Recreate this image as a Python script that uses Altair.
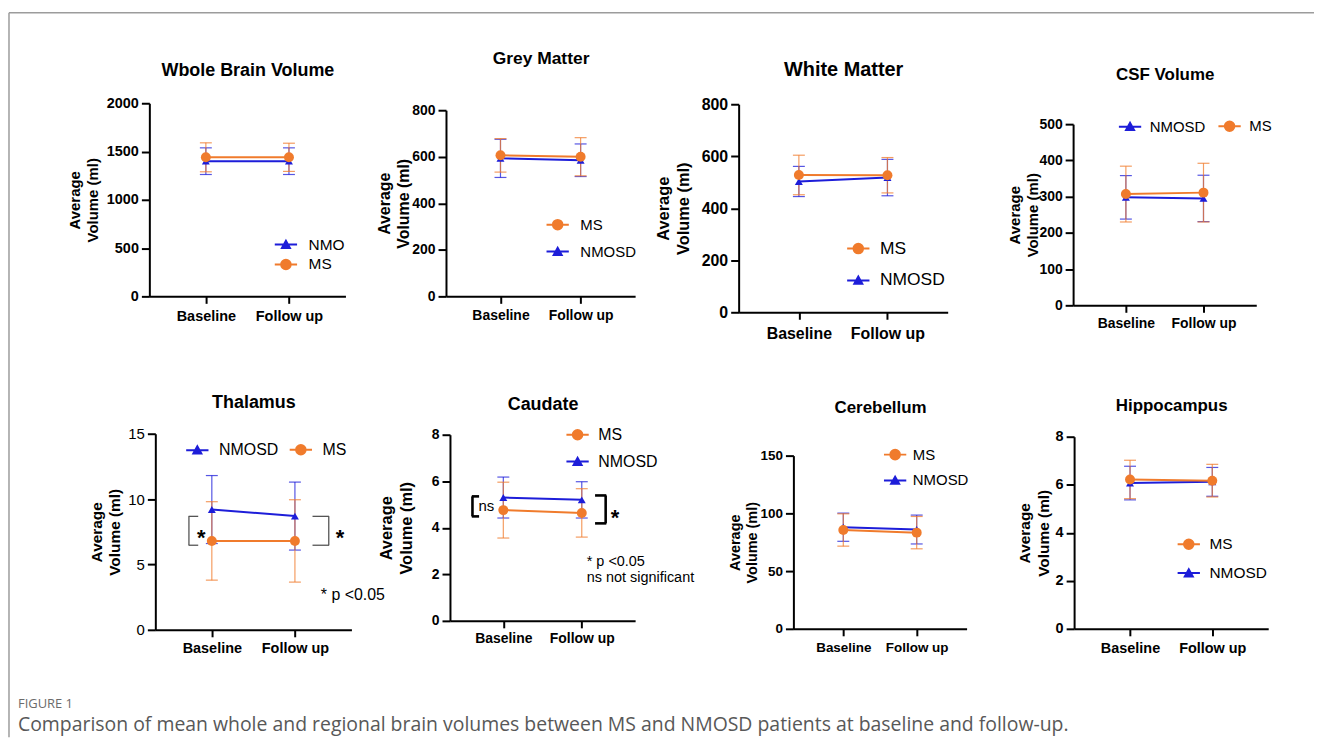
import altair as alt
import pandas as pd

# ---------------- geometry of the page ----------------
W, H = 1312, 731          # whole figure (view) size
OX, OY = 8, 8             # page margin

FONT = "Liberation Sans"
CAP_FONT = "Open Sans"
MS_COLOR = "#F07B2C"
NMO_COLOR = "#1D1DD9"

TIMES = ["Baseline", "Follow up"]

# ---------------- values ----------------
PANEL_TITLES = ["Wbole Brain Volume", "Grey Matter", "White Matter", "CSF Volume",
                "Thalamus", "Caudate", "Cerebellum", "Hippocampus"]
NMO_NAMES = ["NMO", "NMOSD", "NMOSD", "NMOSD", "NMOSD", "NMOSD", "NMOSD", "NMOSD"]
Y_TICKS = [
    [0, 500, 1000, 1500, 2000],
    [0, 200, 400, 600, 800],
    [0, 200, 400, 600, 800],
    [0, 100, 200, 300, 400, 500],
    [0, 5, 10, 15],
    [0, 2, 4, 6, 8],
    [0, 50, 100, 150],
    [0, 2, 4, 6, 8],
]
MS_MEAN = [[1440, 1440], [606, 600], [528, 527], [307, 311],
           [6.8, 6.8], [4.76, 4.64], [85.6, 83.3], [6.22, 6.17]]
MS_ERR = [[150, 146], [72, 82], [76, 68], [77, 81],
          [3.0, 3.15], [1.2, 1.04], [14, 14], [0.8, 0.68]]
NMO_MEAN = [[1400, 1400], [593, 585], [503, 518], [298, 295],
            [9.2, 8.7], [5.3, 5.2], [88, 86], [6.07, 6.12]]
NMO_ERR = [[138, 138], [82, 70], [58, 70], [60, 64],
           [2.6, 2.6], [0.88, 0.78], [12.2, 12.5], [0.7, 0.6]]
LEGEND_ORDER = [["NMO", "MS"], ["MS", "NMOSD"], ["MS", "NMOSD"], ["NMOSD", "MS"],
                ["NMOSD", "MS"], ["MS", "NMOSD"], ["MS", "NMOSD"], ["MS", "NMOSD"]]

# significance annotations
TH_BRACKET = [6.47, 8.68]
TH_STAR_Y = 7.46
TH_NOTE = "* p <0.05"
TH_NOTE_Y = 2.67
CA_LEFT_BRACKET = [4.49, 5.35]
CA_RIGHT_BRACKET = [4.19, 5.39]
CA_NS_Y = 4.92
CA_STAR_Y = 4.66
CA_NOTES = ["* p <0.05", "ns not significant"]
CA_NOTE_Y = [2.52, 1.84]

FIG_LABEL = "FIGURE 1"
CAPTION = ("Comparison of mean whole and regional brain volumes between MS and NMOSD "
           "patients at baseline and follow-up.")

# ---------------- layout (page pixels) ----------------
LAYOUT = [
    dict(ax=150, xr=347, y0=296, yt=102, ty=69, tfs=18, lfs=14.5, ylfs=14.5, yw="bold", lpad=6, afs=15, apad=6),
    dict(ax=448, xr=638, y0=296, yt=109, ty=57, tfs=17.5, lfs=14, ylfs=14, yw="bold", lpad=5, afs=16, apad=0),
    dict(ax=742, xr=952, y0=312, yt=103, ty=68, tfs=20, lfs=16, ylfs=16, yw="bold", lpad=6, afs=16.5, apad=9.5),
    dict(ax=1078, xr=1262, y0=305, yt=123, ty=73, tfs=17, lfs=14, ylfs=14, yw="bold", lpad=4, afs=15, apad=-2),
    dict(ax=156, xr=353, y0=631, yt=434, ty=403, tfs=18, lfs=14.5, ylfs=15, yw="normal", lpad=5, afs=15.5, apad=5),
    dict(ax=452, xr=638, y0=622, yt=435, ty=405, tfs=18, lfs=14, ylfs=14, yw="bold", lpad=4, afs=16.5, apad=17),
    dict(ax=797, xr=971, y0=630, yt=456, ty=408, tfs=17, lfs=13.5, ylfs=13.5, yw="bold", lpad=5, afs=14.5, apad=0.5),
    dict(ax=1079, xr=1274, y0=630, yt=437, ty=406, tfs=17, lfs=14.5, ylfs=14.5, yw="bold", lpad=6, afs=15.5, apad=4),
]
LEGEND_LAYOUT = [
    dict(dir="vertical", lx=275, cy=243, sp=18, tx=308, fs=15.5),
    dict(dir="vertical", lx=548, cy=223, sp=25, tx=581, fs=15),
    dict(dir="vertical", lx=850, cy=247, sp=30, tx=882, fs=17.5),
    dict(dir="horizontal", lx=1123, cy=124, gap=8, tx=1153, fs=15),
    dict(dir="horizontal", lx=186, cy=449, gap=6, tx=218, fs=16),
    dict(dir="vertical", lx=568, cy=434, sp=25, tx=599, fs=16),
    dict(dir="vertical", lx=887, cy=454, sp=24, tx=915, fs=15),
    dict(dir="vertical", lx=1182, cy=544, sp=27, tx=1213, fs=15.5),
]

SYM = 256                 # legend symbol area -> 16 px box
HALF = SYM ** 0.5 / 2     # 8 px
LINE_HALF = 1.4 * HALF    # legend line half length
TRI_PATH = "M-1.4,0H1.4M-0.5,0.42L0,-0.48L0.5,0.42Z"
CIRC_PATH = "M-1.4,0H1.4M-0.6,0A0.6,0.6 0 1,0 0.6,0A0.6,0.6 0 1,0 -0.6,0Z"


def make_panel(i):
    L = LAYOUT[i]
    G = LEGEND_LAYOUT[i]
    nmo = NMO_NAMES[i]
    rows = []
    for name, means, errs in [(nmo, NMO_MEAN[i], NMO_ERR[i]), ("MS", MS_MEAN[i], MS_ERR[i])]:
        for t, m, e in zip(TIMES, means, errs):
            rows.append(dict(series=name, time=t, mean=m, lo=m - e, hi=m + e))
    df = pd.DataFrame(rows)

    x0, x1 = L["ax"] - OX, L["xr"] - OX
    y0, y1 = L["y0"] - OY, L["yt"] - OY
    ticks = Y_TICKS[i]
    xscale = alt.Scale(type="point", domain=TIMES, range=[x0, x1], padding=0.68)
    yscale = alt.Scale(domain=[ticks[0], ticks[-1]], range=[y0, y1], nice=False, zero=False)
    xaxis = alt.Axis(orient="bottom", offset=y0 - H, title=PANEL_TITLES[i],
                     titleY=(L["ty"] - OY) - y0, titleBaseline="middle",
                     titleFontSize=L["tfs"], labelFontSize=L["lfs"], labelPadding=L["lpad"],
                     labelAngle=0, tickSize=7)
    yaxis = alt.Axis(orient="left", offset=-x0, values=ticks, format="d",
                     title=["Average", "Volume (ml)"],
                     titleFontSize=L["afs"], titlePadding=L["apad"], titleLineHeight=L["afs"] * 1.2,
                     labelFontSize=L["ylfs"], labelFontWeight=L["yw"], labelPadding=3,
                     tickSize=8, minExtent=0)
    X = alt.X("time:N", scale=xscale, axis=xaxis, sort=TIMES)

    def Y(field):
        return alt.Y(field, type="quantitative", scale=yscale, axis=yaxis)

    base = alt.Chart(df)
    series = [(nmo, NMO_COLOR, "triangle-up", 64), ("MS", MS_COLOR, "circle", 100)]
    errs, lines, pts = [], [], []
    for name, col, shp, sz in series:
        sub = base.transform_filter(alt.datum.series == name)
        errs.append(sub.mark_errorbar(ticks=True, size=12, thickness=1.2, opacity=0.75, color=col)
                    .encode(x=X, y=Y("lo"), y2="hi:Q"))
        lines.append(sub.mark_line(strokeWidth=2, color=col).encode(x=X, y=Y("mean")))
        pts.append(sub.mark_point(shape=shp, size=sz, filled=True, opacity=1, color=col)
                   .encode(x=X, y=Y("mean")))

    # legend (line + marker symbols)
    order = LEGEND_ORDER[i]
    cols = [MS_COLOR if n == "MS" else NMO_COLOR for n in order]
    paths = [CIRC_PATH if n == "MS" else TRI_PATH for n in order]
    start = G["lx"] + (LINE_HALF - HALF)
    leg = alt.Legend(orient="none", legendX=start - OX, legendY=G["cy"] - OY - HALF,
                     direction=G["dir"], title=None, labelFontSize=G["fs"], labelFont=FONT,
                     labelColor="black", labelFontWeight="normal", symbolSize=SYM,
                     symbolStrokeWidth=2, labelOffset=G["tx"] - start - 2 * HALF,
                     rowPadding=G.get("sp", 2 * HALF) - 2 * HALF, columnPadding=G.get("gap", 0),
                     padding=0)
    legend_layer = alt.Chart(pd.DataFrame({"series": order})).transform_filter("false").mark_point(
        filled=True, opacity=1).encode(
        fill=alt.Fill("series:N", scale=alt.Scale(domain=order, range=cols), legend=leg),
        stroke=alt.Stroke("series:N", scale=alt.Scale(domain=order, range=cols), legend=leg),
        shape=alt.Shape("series:N", scale=alt.Scale(domain=order, range=paths), legend=leg))

    layers = errs + lines + pts + [legend_layer]

    def bracket(t, lo, hi, xv, xt, col, wid):
        d = pd.DataFrame({"time": [t], "lo": [lo], "hi": [hi]})
        vert = alt.Chart(d).mark_rule(xOffset=xv, color=col, strokeWidth=wid).encode(
            x=X, y=Y("lo"), y2="hi:Q")
        dt = pd.DataFrame({"time": [t, t], "v": [lo, hi]})
        tips = alt.Chart(dt).mark_tick(xOffset=(xv + xt) / 2, size=abs(xt - xv) + wid / 2,
                                       thickness=wid, color=col, opacity=1).encode(
            x=X, y=Y("v"))
        return [vert, tips]

    def label(t, v, txt, dx, size, weight, dy=0, baseline="middle", col="black"):
        d = pd.DataFrame({"time": [t], "v": [v], "txt": [txt]})
        return alt.Chart(d).mark_text(align="left", baseline=baseline, dx=dx, dy=dy, fontSize=size,
                                      fontWeight=weight, font=FONT, color=col).encode(
            x=X, y=Y("v"), text="txt:N")

    if PANEL_TITLES[i] == "Thalamus":
        layers += bracket(TIMES[0], TH_BRACKET[0], TH_BRACKET[1], -23, -14, "#555555", 1.3)
        layers += bracket(TIMES[1], TH_BRACKET[0], TH_BRACKET[1], 34, 18, "#555555", 1.3)
        layers.append(label(TIMES[0], TH_STAR_Y, "*", -15, 22, "bold", dy=13, baseline="alphabetic"))
        layers.append(label(TIMES[1], TH_STAR_Y, "*", 41, 22, "bold", dy=13, baseline="alphabetic"))
        layers.append(label(TIMES[1], TH_NOTE_Y, TH_NOTE, 26, 16, "normal"))
    if PANEL_TITLES[i] == "Caudate":
        layers += bracket(TIMES[0], CA_LEFT_BRACKET[0], CA_LEFT_BRACKET[1], -31, -25, "black", 2.6)
        layers += bracket(TIMES[1], CA_RIGHT_BRACKET[0], CA_RIGHT_BRACKET[1], 24, 14, "black", 2.6)
        layers.append(label(TIMES[0], CA_NS_Y, "ns", -25, 15, "normal"))
        layers.append(label(TIMES[1], CA_STAR_Y, "*", 29, 22, "bold", dy=13, baseline="alphabetic"))
        for txt, v in zip(CA_NOTES, CA_NOTE_Y):
            layers.append(label(TIMES[1], v, txt, 5, 14.5, "normal"))

    return alt.layer(*layers)


panels = [make_panel(i) for i in range(8)]

one = pd.DataFrame({"k": [0]})
frame_top = alt.Chart(one).mark_rule(color="#9c9c9c", strokeWidth=1.5).encode(
    x=alt.value(1), x2=alt.value(W), y=alt.value(3))
frame_left = alt.Chart(one).mark_rule(color="#9c9c9c", strokeWidth=1.5).encode(
    x=alt.value(1), y=alt.value(3), y2=alt.value(H))
cap1 = alt.Chart(pd.DataFrame({"t": [FIG_LABEL]})).mark_text(
    align="left", baseline="middle", font=CAP_FONT, fontSize=13, color="#6b6b6b").encode(
    text="t:N", x=alt.value(10), y=alt.value(698))
cap2 = alt.Chart(pd.DataFrame({"t": [CAPTION]})).mark_text(
    align="left", baseline="middle", font=CAP_FONT, fontSize=19.5, color="#585858").encode(
    text="t:N", x=alt.value(10), y=alt.value(719))

chart = alt.layer(*panels, frame_top, frame_left, cap1, cap2).resolve_scale(
    x="independent", y="independent", fill="independent",
    stroke="independent", shape="independent").resolve_axis(
    x="independent", y="independent").resolve_legend(
    fill="independent", stroke="independent", shape="independent"
).properties(
    width=W, height=H, autosize=alt.AutoSizeParams(type="none"), padding=0
).configure(font=FONT).configure_view(stroke=None).configure_axis(
    domainColor="black", domainWidth=2, tickColor="black", tickWidth=2,
    labelColor="black", titleColor="black", labelFont=FONT, titleFont=FONT,
    labelFontWeight="bold", titleFontWeight="bold", grid=False)

chart.save("out.html", embed_options={"renderer": "svg", "actions": False})
